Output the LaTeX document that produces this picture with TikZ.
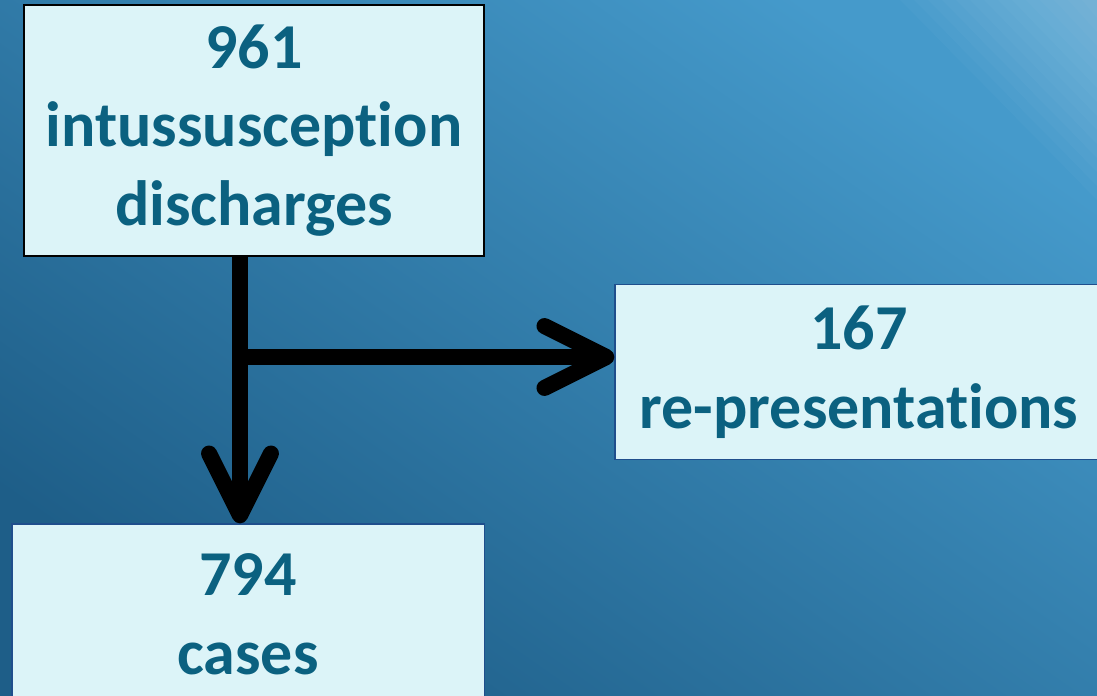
\documentclass[tikz,border=0pt]{standalone}
\usepackage{fontspec}
\setmainfont{Carlito}[Ligatures={NoCommon}]
\usetikzlibrary{arrows.meta,positioning}

\definecolor{bgdark}{HTML}{1E5E88}
\definecolor{bglight}{HTML}{459ACB}
\definecolor{boxfill}{HTML}{DCF4F8}
\definecolor{boxtext}{HTML}{0B6180}
\definecolor{boxline}{HTML}{1F4E8C}

\tikzset{
    flowbox/.style={draw=boxline, line width=0.8pt, fill=boxfill, text=boxtext,
        font=\fontsize{45.5}{56}\selectfont\bfseries, align=center, inner sep=0pt},
    flowarrow/.style={line width=11.4pt, draw=black,
        -{Straight Barb[length=44pt, width=44pt, round]}},
}

\begin{document}
\begin{tikzpicture}[x=0.025cm, y=-0.025cm]
    \useasboundingbox (0,0) rectangle (1097,696);
    \clip (0,0) rectangle (1097,696);

    % background
    \fill[top color=bglight, bottom color=bgdark, shading angle=-35] (0,0) rectangle (1097,696);
    % light streak in the corner
    \foreach \i in {0,...,13}
        \fill[white, opacity=0.025] ({900+14*\i},0) -- (1097,0) -- (1097,{200-14*\i}) -- cycle;

    % boxes
    \node[flowbox, draw=black, line width=1.4pt, minimum width=11.5cm, minimum height=6.275cm] (discharges) at (254,130.5) {961\\intussusception\\discharges};
    \node[flowbox, minimum width=12.2cm, minimum height=4.375cm] (represent) at (859,372) {167\\re-presentations};
    \node[flowbox, minimum width=11.8cm, minimum height=4.5cm] (cases) at (248,614) {794\\cases};

    % split point
    \coordinate (split) at (240,357);

    \draw[line width=11.4pt] (discharges.south -| split) -- (split);
    \draw[flowarrow] (split) -- (cases.north -| split);
    \draw[flowarrow] (split) -- (split -| represent.west);
\end{tikzpicture}
\end{document}
